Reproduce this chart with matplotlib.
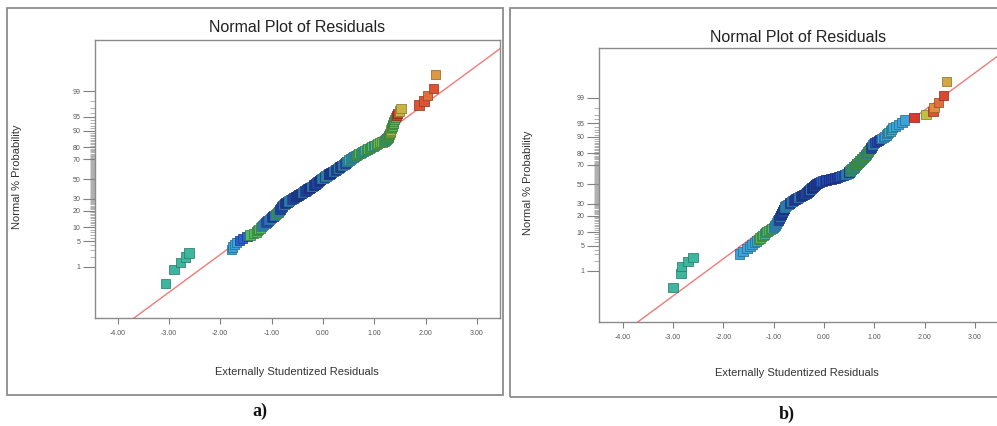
import matplotlib
matplotlib.use("Agg")
import matplotlib.pyplot as plt
from matplotlib.patches import Rectangle
from matplotlib.colors import LinearSegmentedColormap
from statistics import NormalDist
import numpy as np

plt.rcParams["font.family"] = ["Liberation Sans", "DejaVu Sans"]

# sorted externally studentized residuals (n = 180 runs)
resid_a = [
    -3.07, -2.90, -2.78, -2.68, -2.61,
    -1.78, -1.76, -1.73, -1.68, -1.63, -1.56, -1.48, -1.42, -1.35, -1.30,
    -1.27, -1.25, -1.22, -1.19, -1.17, -1.15, -1.13, -1.11, -1.09, -1.07,
    -1.04, -1.02, -1.00, -0.98, -0.96, -0.94, -0.92, -0.90, -0.88, -0.87,
    -0.86, -0.85, -0.84, -0.83, -0.82, -0.81, -0.80, -0.79, -0.78, -0.77,
    -0.75, -0.74, -0.72, -0.70, -0.68, -0.67, -0.65, -0.63, -0.61, -0.59,
    -0.57, -0.55, -0.53, -0.51, -0.49, -0.48, -0.46, -0.44, -0.42, -0.40,
    -0.39, -0.37, -0.35, -0.34, -0.32, -0.30, -0.29, -0.27, -0.25, -0.24,
    -0.22, -0.21, -0.19, -0.18, -0.17, -0.15, -0.14, -0.12, -0.11, -0.10,
    -0.08, -0.07, -0.06, -0.05, -0.04,
    -0.02, 0.00, 0.01, 0.03, 0.04, 0.06, 0.07, 0.09, 0.11, 0.12,
    0.14, 0.15, 0.17, 0.19, 0.20, 0.22, 0.24, 0.25, 0.27, 0.28,
    0.30, 0.31, 0.33, 0.35, 0.36, 0.38, 0.40, 0.41, 0.43, 0.44,
    0.46, 0.47, 0.48, 0.50, 0.51, 0.53, 0.54, 0.56, 0.58, 0.60,
    0.62, 0.64, 0.66, 0.68, 0.70, 0.73, 0.75, 0.77, 0.79, 0.82,
    0.85, 0.87, 0.90, 0.92, 0.95, 0.98, 1.01, 1.04, 1.07, 1.11,
    1.15, 1.19, 1.21, 1.23, 1.25, 1.27, 1.28, 1.28, 1.29, 1.30,
    1.31, 1.31, 1.32, 1.33, 1.34, 1.35, 1.36, 1.37, 1.38, 1.39,
    1.41, 1.43, 1.46, 1.49, 1.52, 1.87, 1.97, 2.04, 2.16, 2.20,
]
resid_b = [
    -3.00, -2.84, -2.83, -2.70, -2.60,
    -1.67, -1.61, -1.53, -1.47, -1.43, -1.38, -1.34, -1.30, -1.27, -1.24,
    -1.21, -1.18, -1.16, -1.13, -1.10, -1.06, -1.03, -1.00, -0.98, -0.97,
    -0.96, -0.95, -0.94, -0.93, -0.92, -0.91, -0.90, -0.89, -0.88, -0.87,
    -0.86, -0.86, -0.85, -0.84, -0.84, -0.83, -0.83, -0.82, -0.81, -0.81,
    -0.80, -0.79, -0.79, -0.78, -0.78, -0.76, -0.74, -0.73, -0.71, -0.69,
    -0.68, -0.66, -0.65, -0.63, -0.62, -0.60, -0.58, -0.56, -0.54, -0.52,
    -0.50, -0.48, -0.46, -0.44, -0.42, -0.40, -0.38, -0.37, -0.35, -0.34,
    -0.33, -0.31, -0.30, -0.29, -0.28, -0.27, -0.26, -0.25, -0.24, -0.22,
    -0.21, -0.20, -0.19, -0.18, -0.17,
    -0.16, -0.15, -0.13, -0.11, -0.08, -0.06, -0.03, 0.01, 0.04, 0.09,
    0.14, 0.18, 0.22, 0.26, 0.29, 0.32, 0.36, 0.39, 0.41, 0.44,
    0.46, 0.48, 0.49, 0.50, 0.51, 0.52, 0.53, 0.54, 0.55, 0.56,
    0.58, 0.59, 0.60, 0.61, 0.62, 0.63, 0.64, 0.65, 0.66, 0.68,
    0.69, 0.70, 0.71, 0.73, 0.74, 0.75, 0.77, 0.78, 0.79, 0.81,
    0.82, 0.83, 0.84, 0.85, 0.86, 0.87, 0.88, 0.89, 0.91, 0.92,
    0.93, 0.94, 0.95, 0.96, 0.97, 0.98, 1.01, 1.04, 1.08, 1.11,
    1.14, 1.18, 1.21, 1.24, 1.26, 1.29, 1.32, 1.34, 1.37, 1.43,
    1.49, 1.55, 1.60, 1.79, 2.03, 2.17, 2.19, 2.27, 2.37, 2.43,
]

# colour of the points in rank order, as runs of (count, level): 0 = dark blue ... 1 = red
runs_a = [(5, 0.45), (4, 0.3), (3, 0.15), (6, 0.58), (4, 0.3),
          (3, 0.15), (2, 0.3), (3, 0.05), (2, 0.3),
          (3, 0.58), (2, 0.3), (3, 0.12),
          (4, 0.12), (2, 0.3), (4, 0.02), (3, 0.3), (4, 0.12), (3, 0.02),
          (5, 0.02), (2, 0.3), (5, 0.1), (3, 0.0), (2, 0.3), (5, 0.05), (3, 0.15), (5, 0.02),
          (3, 0.3), (2, 0.12), (3, 0.35), (2, 0.05),
          (4, 0.02), (2, 0.3), (4, 0.1), (2, 0.45), (3, 0.05),
          (3, 0.3), (3, 0.12), (4, 0.35),
          (4, 0.45), (3, 0.3), (4, 0.58), (4, 0.45),
          (5, 0.58), (2, 0.45), (5, 0.62), (3, 0.5), (5, 0.6),
          (4, 0.68), (4, 0.6), (3, 0.58),
          (2, 1.0), (2, 0.75), (2, 0.95), (1, 0.9), (1, 0.95), (1, 0.82)]
runs_b = [(5, 0.45), (7, 0.3), (4, 0.58), (2, 0.45), (4, 0.58), (8, 0.3),
          (4, 0.12), (2, 0.3), (5, 0.05), (3, 0.15), (4, 0.02), (2, 0.3),
          (4, 0.3), (3, 0.12), (3, 0.3),
          (5, 0.05), (2, 0.3), (5, 0.02), (3, 0.15), (5, 0.05), (2, 0.3), (5, 0.0), (3, 0.12),
          (5, 0.02), (3, 0.12), (7, 0.0),
          (4, 0.12), (3, 0.3), (3, 0.05),
          (4, 0.45), (3, 0.58), (4, 0.48), (4, 0.58),
          (5, 0.58), (3, 0.45), (5, 0.6), (3, 0.3), (4, 0.58),
          (4, 0.12), (2, 0.3), (4, 0.05),
          (5, 0.3), (4, 0.35), (4, 0.3),
          (1, 1.0), (1, 0.72), (1, 0.95), (1, 0.85), (1, 0.9), (1, 0.97), (1, 0.78)]

prob_ticks = [1, 5, 10, 20, 30, 50, 70, 80, 90, 95, 99]
x_ticks = [-4, -3, -2, -1, 0, 1, 2, 3]
title = "Normal Plot of Residuals"
xlabel = "Externally Studentized Residuals"
ylabel = "Normal % Probability"
panel_tags = ["a)", "b)"]

W, H = 997, 426
nd = NormalDist()
cmap = LinearSegmentedColormap.from_list("de", [
    (0.0, "#2444b0"), (0.15, "#2c60cc"), (0.3, "#3aa4da"), (0.45, "#3eb69e"),
    (0.6, "#54ba54"), (0.72, "#bec242"), (0.85, "#e48c42"), (1.0, "#d83a2e")])


def fx(px):
    return px / W


def fy(py):
    return 1 - py / H


fig = plt.figure(figsize=(W / 100, H / 100), dpi=100)

# outer frames of the two screenshots
fig.patches.append(Rectangle((fx(7), fy(395)), 496 / W, 387 / H, transform=fig.transFigure,
                             fill=False, ec="#8c8c8c", lw=1.3))
fig.patches.append(Rectangle((fx(510), fy(397)), 500 / W, 389 / H, transform=fig.transFigure,
                             fill=False, ec="#8c8c8c", lw=1.3))

panels = [
    # resid, runs, axes box (px), xlim, ylim, text positions
    dict(r=resid_a, runs=runs_a, box=(95, 40, 500, 318), xlim=(-4.44, 3.45), ylim=(-3.68, 3.68),
         title=(297, 28), ylab=(17, 177), xlab=(297, 372), tag=(260, 411), right=True),
    dict(r=resid_b, runs=runs_b, box=(599, 48, 997, 322), xlim=(-4.47, 3.44), ylim=(-3.70, 3.67),
         title=(798, 37), ylab=(528, 183), xlab=(797, 373), tag=(787, 414), right=False),
]

for p, tag in zip(panels, panel_tags):
    x0, y0, x1, y1 = p["box"]
    ax = fig.add_axes([fx(x0), fy(y1), (x1 - x0) / W, (y1 - y0) / H])
    resid = np.array(p["r"])
    n = len(resid)
    z = np.array([nd.inv_cdf((i - 0.5) / n) for i in range(1, n + 1)])
    levels = np.repeat([lv for c, lv in p["runs"]], [c for c, lv in p["runs"]])
    faces = cmap(levels)
    edges = faces.copy()
    edges[:, :3] *= 0.68

    xl = np.array(p["xlim"])
    ax.plot(xl, xl, color="#f07a7a", lw=1.0, zorder=1)
    ax.scatter(resid, z, marker="s", s=44, c=faces, edgecolors=edges,
               linewidths=0.55, zorder=2)

    ax.set_xlim(*p["xlim"])
    ax.set_ylim(*p["ylim"])
    ax.set_xticks(x_ticks)
    ax.set_xticklabels([f"{t:.2f}" for t in x_ticks])
    ax.set_yticks([nd.inv_cdf(q / 100) for q in prob_ticks])
    ax.set_yticklabels([str(q) for q in prob_ticks])
    ax.set_yticks([nd.inv_cdf(q / 100) for q in range(2, 99) if q not in prob_ticks], minor=True)
    ax.tick_params(axis="y", which="major", length=8.5, width=0.8, color="#808080",
                   labelsize=5, labelcolor="#555555", pad=2)
    ax.tick_params(axis="y", which="minor", length=3.5, width=0.5, color="#909090")
    ax.tick_params(axis="x", which="major", length=4.5, width=0.8, color="#808080",
                   labelsize=5, labelcolor="#555555", pad=4)
    for s in ax.spines.values():
        s.set_color("#8a8a8a")
        s.set_linewidth(1.0)
    ax.spines["right"].set_visible(p["right"])

    fig.text(fx(p["title"][0]), fy(p["title"][1]), title, ha="center", va="center",
             fontsize=11.5, color="#222222")
    fig.text(fx(p["ylab"][0]), fy(p["ylab"][1]), ylabel, ha="center", va="center",
             rotation=90, fontsize=8, color="#333333")
    fig.text(fx(p["xlab"][0]), fy(p["xlab"][1]), xlabel, ha="center", va="center",
             fontsize=8, color="#333333")
    fig.text(fx(p["tag"][0]), fy(p["tag"][1]), tag, ha="center", va="center",
             fontsize=13, fontweight="bold", family=["Liberation Serif", "DejaVu Serif"],
             color="#111111")

fig.savefig("out.png", dpi=100)
